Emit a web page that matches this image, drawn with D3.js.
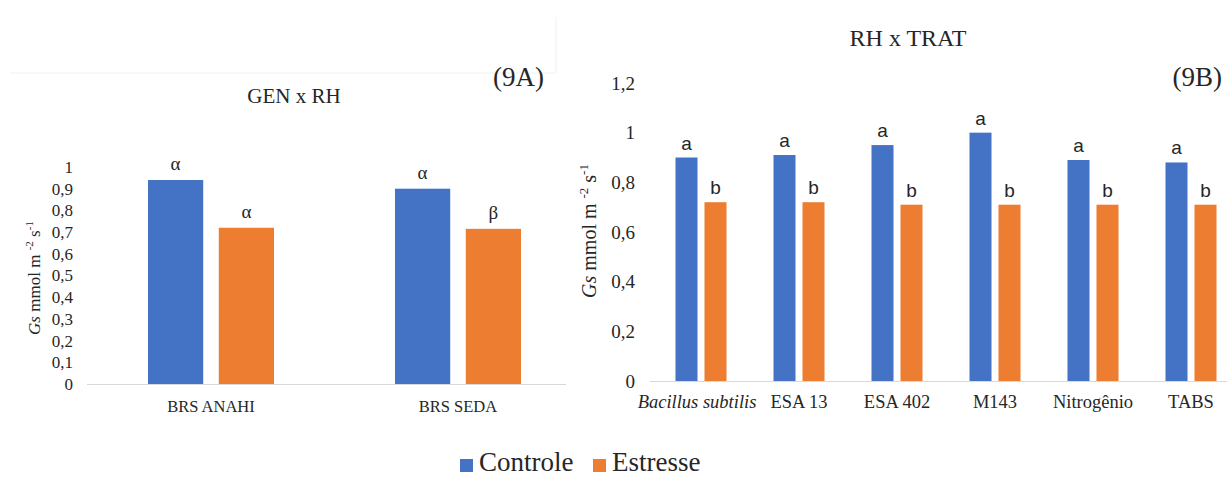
<!DOCTYPE html>
<html>
<head>
<meta charset="utf-8">
<script src="https://cdn.jsdelivr.net/npm/d3@7"></script>
</head>
<body style="margin:0;background:#fff">
<svg id="chart" width="1227" height="477" style="display:block"></svg>
<script>
// series
var series = ['Controle', 'Estresse'];
var colors = ['#4472C4', '#ED7D31'];

// panel 9A : GEN x RH
var genCats = ['BRS ANAHI', 'BRS SEDA'];
var genControle = [0.94, 0.90];
var genEstresse = [0.72, 0.715];
var genLetrasC = ['α', 'α'];
var genLetrasE = ['α', 'β'];
var genTicks = [0, 0.1, 0.2, 0.3, 0.4, 0.5, 0.6, 0.7, 0.8, 0.9, 1];

// panel 9B : RH x TRAT
var tratCats = ['Bacillus subtilis', 'ESA 13', 'ESA 402', 'M143', 'Nitrogênio', 'TABS'];
var tratControle = [0.90, 0.91, 0.95, 1.00, 0.89, 0.88];
var tratEstresse = [0.72, 0.72, 0.71, 0.71, 0.71, 0.71];
var tratLetrasC = ['a', 'a', 'a', 'a', 'a', 'a'];
var tratLetrasE = ['b', 'b', 'b', 'b', 'b', 'b'];
var tratTicks = [0, 0.2, 0.4, 0.6, 0.8, 1, 1.2];

var SERIF = '"Liberation Serif", "Times New Roman", serif';
var SANS = '"Liberation Sans", Arial, sans-serif';

var svg = d3.select('#chart');
var fmt = function (d) { return String(d).replace('.', ','); };

// faint frame lines left from the original figure
svg.append('path').attr('d', 'M10,73H556V17').attr('fill', 'none').attr('stroke', '#f0f0f0');

function panel(o) {
  var g = svg.append('g');
  var y = d3.scaleLinear().domain(o.yDomain).range([o.base, o.top]);
  var x0 = d3.scaleBand().domain(o.cats).range(o.xRange);
  var bw = x0.bandwidth();
  var x1 = d3.scaleBand().domain(series)
      .range([bw / 2 - o.half, bw / 2 + o.half]).paddingInner(o.inner);

  // y tick labels (no axis line)
  var yAxis = d3.axisLeft(y).tickValues(o.ticks).tickFormat(fmt).tickSize(0).tickPadding(0);
  var ya = g.append('g').attr('transform', 'translate(' + o.tickX + ',0)').call(yAxis);
  ya.attr('font-family', null);
  ya.select('.domain').remove();
  ya.selectAll('text').attr('font-size', o.tickSize);

  // baseline
  g.append('line').attr('x1', o.lineX[0]).attr('x2', o.lineX[1])
      .attr('y1', o.base + 0.5).attr('y2', o.base + 0.5)
      .attr('stroke', '#d9d9d9').attr('stroke-width', 1.2);

  var rows = o.cats.map(function (c, i) {
    return { cat: c, vals: [o.c[i], o.e[i]], lets: [o.lc[i], o.le[i]] };
  });

  var grp = g.selectAll('.grp').data(rows).enter().append('g')
      .attr('transform', function (d) { return 'translate(' + x0(d.cat) + ',0)'; });

  var bars = function (d) {
    return series.map(function (s, k) { return { s: s, k: k, v: d.vals[k], l: d.lets[k] }; });
  };

  grp.selectAll('rect').data(bars).enter().append('rect')
      .attr('x', function (d) { return x1(d.s); })
      .attr('width', x1.bandwidth())
      .attr('y', function (d) { return y(d.v); })
      .attr('height', function (d) { return y(0) - y(d.v); })
      .attr('fill', function (d) { return colors[d.k]; });

  grp.selectAll('.let').data(bars).enter().append('text')
      .attr('class', o.letClass)
      .attr('x', function (d) { return x1(d.s) + x1.bandwidth() / 2; })
      .attr('y', function (d) { return y(d.v) - o.letGap; })
      .attr('text-anchor', 'middle')
      .attr('font-size', o.letSize)
      .text(function (d) { return d.l; });

  // category labels
  g.selectAll('.cat').data(o.cats).enter().append('text')
      .attr('x', function (d) { return x0(d) + bw / 2 - (d === 'Bacillus subtilis' ? 4 : 0); })
      .attr('y', o.catY)
      .attr('text-anchor', 'middle')
      .attr('font-size', o.catSize)
      .attr('font-style', function (d) { return d === 'Bacillus subtilis' ? 'italic' : null; })
      .text(function (d) { return d; });

  // y title
  var t = g.append('text')
      .attr('transform', 'translate(' + o.ttlX + ',' + o.ttlY + ') rotate(-90)')
      .attr('text-anchor', 'middle')
      .attr('font-size', o.ttlSize);
  t.append('tspan').attr('font-style', 'italic').text('Gs');
  t.append('tspan').text(' mmol m ');
  t.append('tspan').attr('dy', -o.ttlSize * 0.4).attr('font-size', o.ttlSize * 0.65).text('-2');
  t.append('tspan').attr('dy', o.ttlSize * 0.4).text(' s');
  t.append('tspan').attr('dy', -o.ttlSize * 0.4).attr('font-size', o.ttlSize * 0.65).text('-1');

  // titles
  g.append('text').attr('x', o.titleX).attr('y', o.titleY).attr('text-anchor', 'middle')
      .attr('font-size', o.titleSize).text(o.title);
  g.append('text').attr('x', o.tagX).attr('y', 86).attr('text-anchor', 'end')
      .attr('font-size', 27).text(o.tag);
}

panel({
  cats: genCats, c: genControle, e: genEstresse, lc: genLetrasC, le: genLetrasE,
  yDomain: [0, 1], base: 384, top: 167, ticks: genTicks, tickX: 73, tickSize: 17,
  xRange: [87.5, 581.5], half: 63, inner: 0.22, lineX: [87, 566],
  letGap: 10, letClass: 'serif', letSize: 19,
  catY: 412, catSize: 16.5,
  ttlX: 40, ttlY: 278, ttlSize: 17,
  title: 'GEN x RH', titleX: 294, titleY: 103, titleSize: 21,
  tag: '(9A)', tagX: 544
});

panel({
  cats: tratCats, c: tratControle, e: tratEstresse, lc: tratLetrasC, le: tratLetrasE,
  yDomain: [0, 1.2], base: 381, top: 83, ticks: tratTicks, tickX: 635, tickSize: 19,
  xRange: [652, 1240], half: 25.5, inner: 0.241, lineX: [650, 1227],
  letGap: 8, letClass: 'sans', letSize: 19,
  catY: 408, catSize: 18.5,
  ttlX: 596, ttlY: 231, ttlSize: 20,
  title: 'RH x TRAT', titleX: 908, titleY: 46, titleSize: 24,
  tag: '(9B)', tagX: 1222
});

// legend
var leg = svg.append('g').selectAll('g').data(series).enter().append('g')
    .attr('transform', function (d, i) { return 'translate(' + [460, 593][i] + ',0)'; });
leg.append('rect').attr('x', 0).attr('y', 459).attr('width', 13).attr('height', 13)
    .attr('fill', function (d, i) { return colors[i]; });
leg.append('text').attr('x', 19).attr('y', 471).attr('font-size', 27).text(function (d) { return d; });

// fonts and colour applied inline
svg.selectAll('text')
    .style('font-family', function () { return this.getAttribute('class') === 'sans' ? SANS : SERIF; })
    .style('fill', '#262626');
</script>
</body>
</html>
